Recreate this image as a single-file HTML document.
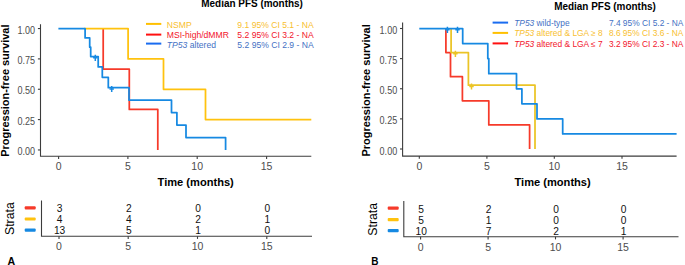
<!DOCTYPE html><html><head><meta charset="utf-8"><style>html,body{margin:0;padding:0;background:#fff;width:685px;height:265px;overflow:hidden;}svg{display:block}text{font-family:"Liberation Sans",sans-serif}</style></head><body>
<svg width="685" height="265" viewBox="0 0 685 265">
<g stroke="#3c3c3c" stroke-width="1.1" fill="none">
<path d="M40.5,24.3V156.2H311.3"/>
<path d="M37.9,28.55H40.5"/>
<path d="M37.9,58.90H40.5"/>
<path d="M37.9,89.25H40.5"/>
<path d="M37.9,119.60H40.5"/>
<path d="M37.9,149.95H40.5"/>
<path d="M58.6,156.2V158.89999999999998"/>
<path d="M127.9,156.2V158.89999999999998"/>
<path d="M197.2,156.2V158.89999999999998"/>
<path d="M266.6,156.2V158.89999999999998"/>
</g>
<text x="35.1" y="33.55" font-size="10.4" fill="#4d4d4d" text-anchor="end" textLength="17.6" lengthAdjust="spacingAndGlyphs">1.00</text>
<text x="35.1" y="63.90" font-size="10.4" fill="#4d4d4d" text-anchor="end" textLength="17.6" lengthAdjust="spacingAndGlyphs">0.75</text>
<text x="35.1" y="94.25" font-size="10.4" fill="#4d4d4d" text-anchor="end" textLength="17.6" lengthAdjust="spacingAndGlyphs">0.50</text>
<text x="35.1" y="124.60" font-size="10.4" fill="#4d4d4d" text-anchor="end" textLength="17.6" lengthAdjust="spacingAndGlyphs">0.25</text>
<text x="35.1" y="154.95" font-size="10.4" fill="#4d4d4d" text-anchor="end" textLength="17.6" lengthAdjust="spacingAndGlyphs">0.00</text>
<text x="58.6" y="169.80" font-size="10.5" fill="#4d4d4d" text-anchor="middle">0</text>
<text x="127.9" y="169.80" font-size="10.5" fill="#4d4d4d" text-anchor="middle">5</text>
<text x="197.2" y="169.80" font-size="10.5" fill="#4d4d4d" text-anchor="middle">10</text>
<text x="266.6" y="169.80" font-size="10.5" fill="#4d4d4d" text-anchor="middle">15</text>
<path d="M103.20,28.55H103.20V69.02H129.30V109.48H157.80V149.95" fill="none" stroke="#f63a2a" stroke-width="1.75" stroke-linejoin="round"/>
<path d="M84.00,28.55H128.10V58.90H163.50V89.25H205.50V119.60H311.3" fill="none" stroke="#ffc20e" stroke-width="1.75" stroke-linejoin="round"/>
<path d="M58.40,28.55H85.10V37.89H89.70V47.23H90.70V56.57H98.20V66.94H102.30V77.32H108.30V87.69H129.00V100.14H171.50V112.60H176.90V125.05H186.00V137.50H225.60V149.95" fill="none" stroke="#1689e2" stroke-width="1.75" stroke-linejoin="round"/>
<path d="M93.10,57.77H97.50M95.30,54.77V60.97" fill="none" stroke="#1689e2" stroke-width="1.5"/>
<path d="M109.50,88.89H113.90M111.70,85.89V92.09" fill="none" stroke="#1689e2" stroke-width="1.5"/>
<text x="201.3" y="7.3" font-size="10.7" font-weight="bold" fill="#000" textLength="101.6" lengthAdjust="spacingAndGlyphs">Median PFS (months)</text>
<path d="M146.0,23.9H161.3" stroke="#ffc000" stroke-width="2"/>
<text x="166.8" y="28.0" font-size="8.6" fill="#f8c030">NSMP</text>
<text x="237.3" y="28.0" font-size="8.6" fill="#f8c030">9.1 95% CI 5.1 - NA</text>
<path d="M146.0,34.6H161.3" stroke="#ff1010" stroke-width="2"/>
<text x="166.8" y="38.0" font-size="8.6" fill="#f2142a">MSI-high/dMMR</text>
<text x="237.3" y="38.0" font-size="8.6" fill="#f2142a">5.2 95% CI 3.2 - NA</text>
<path d="M146.0,43.6H161.3" stroke="#1a6cf0" stroke-width="2"/>
<text x="166.8" y="48.0" font-size="8.6" fill="#4471c4"><tspan font-style="italic">TP53</tspan> altered</text>
<text x="237.3" y="48.0" font-size="8.6" fill="#4471c4">5.2 95% CI 2.9 - NA</text>
<text transform="translate(9.0,156.8) rotate(-90)" font-size="10.98" font-weight="bold" fill="#000">Progression-free survival</text>
<text x="157.6" y="185.6" font-size="11.1" font-weight="bold" fill="#000">Time (months)</text>
<g stroke="#3c3c3c" stroke-width="1.1" fill="none"><path d="M41.5,200.5V236.3H312"/>
<path d="M59.0,236.3V238.9"/>
<path d="M128.2,236.3V238.9"/>
<path d="M197.5,236.3V238.9"/>
<path d="M266.8,236.3V238.9"/>
</g>
<text x="59.0" y="249.60" font-size="10.5" fill="#4d4d4d" text-anchor="middle">0</text>
<text x="128.2" y="249.60" font-size="10.5" fill="#4d4d4d" text-anchor="middle">5</text>
<text x="197.5" y="249.60" font-size="10.5" fill="#4d4d4d" text-anchor="middle">10</text>
<text x="266.8" y="249.60" font-size="10.5" fill="#4d4d4d" text-anchor="middle">15</text>
<text x="59.6" y="212.15" font-size="10.2" fill="#111" text-anchor="middle">3</text>
<text x="128.79999999999998" y="212.15" font-size="10.2" fill="#111" text-anchor="middle">2</text>
<text x="198.1" y="212.15" font-size="10.2" fill="#111" text-anchor="middle">0</text>
<text x="267.40000000000003" y="212.15" font-size="10.2" fill="#111" text-anchor="middle">0</text>
<text x="59.6" y="223.10" font-size="10.2" fill="#111" text-anchor="middle">4</text>
<text x="128.79999999999998" y="223.10" font-size="10.2" fill="#111" text-anchor="middle">4</text>
<text x="198.1" y="223.10" font-size="10.2" fill="#111" text-anchor="middle">2</text>
<text x="267.40000000000003" y="223.10" font-size="10.2" fill="#111" text-anchor="middle">1</text>
<text x="59.6" y="234.00" font-size="10.2" fill="#111" text-anchor="middle">13</text>
<text x="128.79999999999998" y="234.00" font-size="10.2" fill="#111" text-anchor="middle">5</text>
<text x="198.1" y="234.00" font-size="10.2" fill="#111" text-anchor="middle">1</text>
<text x="267.40000000000003" y="234.00" font-size="10.2" fill="#111" text-anchor="middle">0</text>
<rect x="24.7" y="206.30" width="11" height="3.2" rx="1" fill="#f63a2a"/>
<rect x="24.7" y="217.40" width="11" height="3.2" rx="1" fill="#ffc20e"/>
<rect x="24.7" y="228.60" width="11" height="3.2" rx="1" fill="#1689e2"/>
<text transform="translate(13.6,235.0) rotate(-90)" font-size="12.3" fill="#000">Strata</text>
<text x="7.6" y="265.2" font-size="10.6" font-weight="bold" fill="#000">A</text>
<g stroke="#3c3c3c" stroke-width="1.1" fill="none">
<path d="M402.6,22.6V156.1H676.6"/>
<path d="M400.0,28.50H402.6"/>
<path d="M400.0,58.62H402.6"/>
<path d="M400.0,88.75H402.6"/>
<path d="M400.0,118.88H402.6"/>
<path d="M400.0,149.00H402.6"/>
<path d="M419.3,156.1V158.79999999999998"/>
<path d="M486.9,156.1V158.79999999999998"/>
<path d="M554.3,156.1V158.79999999999998"/>
<path d="M622.0,156.1V158.79999999999998"/>
</g>
<text x="397.20000000000005" y="34.10" font-size="10.4" fill="#4d4d4d" text-anchor="end" textLength="17.6" lengthAdjust="spacingAndGlyphs">1.00</text>
<text x="397.20000000000005" y="64.22" font-size="10.4" fill="#4d4d4d" text-anchor="end" textLength="17.6" lengthAdjust="spacingAndGlyphs">0.75</text>
<text x="397.20000000000005" y="94.35" font-size="10.4" fill="#4d4d4d" text-anchor="end" textLength="17.6" lengthAdjust="spacingAndGlyphs">0.50</text>
<text x="397.20000000000005" y="124.47" font-size="10.4" fill="#4d4d4d" text-anchor="end" textLength="17.6" lengthAdjust="spacingAndGlyphs">0.25</text>
<text x="397.20000000000005" y="154.60" font-size="10.4" fill="#4d4d4d" text-anchor="end" textLength="17.6" lengthAdjust="spacingAndGlyphs">0.00</text>
<text x="419.3" y="170.00" font-size="10.5" fill="#4d4d4d" text-anchor="middle">0</text>
<text x="486.9" y="170.00" font-size="10.5" fill="#4d4d4d" text-anchor="middle">5</text>
<text x="554.3" y="170.00" font-size="10.5" fill="#4d4d4d" text-anchor="middle">10</text>
<text x="622.0" y="170.00" font-size="10.5" fill="#4d4d4d" text-anchor="middle">15</text>
<path d="M445.90,28.50H445.90V52.60H450.50V76.70H462.40V100.80H488.80V124.90H529.60V149.00" fill="none" stroke="#f63a2a" stroke-width="1.75" stroke-linejoin="round"/>
<path d="M451.10,28.50H451.10V52.60H468.40V85.20H535.00V149.00" fill="none" stroke="#ebc426" stroke-width="1.75" stroke-linejoin="round"/>
<path d="M419.30,28.50H462.70V43.56H487.80V58.62H488.80V73.69H516.50V88.75H521.90V103.81H537.00V118.88H562.70V133.94H676.6" fill="none" stroke="#1689e2" stroke-width="1.75" stroke-linejoin="round"/>
<path d="M445.20,29.70H449.60M447.40,26.70V32.90" fill="none" stroke="#1689e2" stroke-width="1.5"/>
<path d="M455.30,29.70H459.70M457.50,26.70V32.90" fill="none" stroke="#1689e2" stroke-width="1.5"/>
<path d="M453.20,53.80H457.60M455.40,50.80V57.00" fill="none" stroke="#ebc426" stroke-width="1.5"/>
<path d="M469.30,86.40H473.70M471.50,83.40V89.60" fill="none" stroke="#ebc426" stroke-width="1.5"/>
<text x="554.2" y="10.4" font-size="10.7" font-weight="bold" fill="#000" textLength="101.6" lengthAdjust="spacingAndGlyphs">Median PFS (months)</text>
<path d="M492.6,22.6H508.1" stroke="#1a6cf0" stroke-width="2"/>
<text x="514.2" y="25.8" font-size="8.4" fill="#4471c4"><tspan font-style="italic">TP53</tspan> wild-type</text>
<text x="608.9" y="25.8" font-size="8.4" fill="#4471c4">7.4 95% CI 5.2 - NA</text>
<path d="M492.6,32.9H508.1" stroke="#ffc000" stroke-width="2"/>
<text x="514.2" y="36.1" font-size="8.4" fill="#f8c030"><tspan font-style="italic">TP53</tspan> altered &amp; LGA ≥ 8</text>
<text x="608.9" y="36.1" font-size="8.4" fill="#f8c030">8.6 95% CI 3.6 - NA</text>
<path d="M492.6,43.4H508.1" stroke="#ff1010" stroke-width="2"/>
<text x="514.2" y="46.5" font-size="8.4" fill="#f2142a"><tspan font-style="italic">TP53</tspan> altered &amp; LGA ≤ 7</text>
<text x="608.9" y="46.5" font-size="8.4" fill="#f2142a">3.2 95% CI 2.3 - NA</text>
<text transform="translate(369.6,156.6) rotate(-90)" font-size="10.98" font-weight="bold" fill="#000">Progression-free survival</text>
<text x="514.5" y="185.6" font-size="11.1" font-weight="bold" fill="#000">Time (months)</text>
<g stroke="#3c3c3c" stroke-width="1.1" fill="none"><path d="M403.8,201V236.8H678.5"/>
<path d="M420.6,236.8V239.4"/>
<path d="M488.1,236.8V239.4"/>
<path d="M555.5,236.8V239.4"/>
<path d="M623.1,236.8V239.4"/>
</g>
<text x="420.6" y="250.60" font-size="10.5" fill="#4d4d4d" text-anchor="middle">0</text>
<text x="488.1" y="250.60" font-size="10.5" fill="#4d4d4d" text-anchor="middle">5</text>
<text x="555.5" y="250.60" font-size="10.5" fill="#4d4d4d" text-anchor="middle">10</text>
<text x="623.1" y="250.60" font-size="10.5" fill="#4d4d4d" text-anchor="middle">15</text>
<text x="421.20000000000005" y="212.90" font-size="10.2" fill="#111" text-anchor="middle">5</text>
<text x="488.70000000000005" y="212.90" font-size="10.2" fill="#111" text-anchor="middle">2</text>
<text x="556.1" y="212.90" font-size="10.2" fill="#111" text-anchor="middle">0</text>
<text x="623.7" y="212.90" font-size="10.2" fill="#111" text-anchor="middle">0</text>
<text x="421.20000000000005" y="224.10" font-size="10.2" fill="#111" text-anchor="middle">5</text>
<text x="488.70000000000005" y="224.10" font-size="10.2" fill="#111" text-anchor="middle">1</text>
<text x="556.1" y="224.10" font-size="10.2" fill="#111" text-anchor="middle">0</text>
<text x="623.7" y="224.10" font-size="10.2" fill="#111" text-anchor="middle">0</text>
<text x="421.20000000000005" y="235.00" font-size="10.2" fill="#111" text-anchor="middle">10</text>
<text x="488.70000000000005" y="235.00" font-size="10.2" fill="#111" text-anchor="middle">7</text>
<text x="556.1" y="235.00" font-size="10.2" fill="#111" text-anchor="middle">2</text>
<text x="623.7" y="235.00" font-size="10.2" fill="#111" text-anchor="middle">1</text>
<rect x="387.7" y="206.50" width="11" height="3.2" rx="1" fill="#f63a2a"/>
<rect x="387.7" y="218.00" width="11" height="3.2" rx="1" fill="#ffc20e"/>
<rect x="387.7" y="229.10" width="11" height="3.2" rx="1" fill="#1689e2"/>
<text transform="translate(377.3,235.7) rotate(-90)" font-size="12.3" fill="#000">Strata</text>
<text x="371.2" y="264.6" font-size="10" font-weight="bold" fill="#000">B</text>
</svg></body></html>
